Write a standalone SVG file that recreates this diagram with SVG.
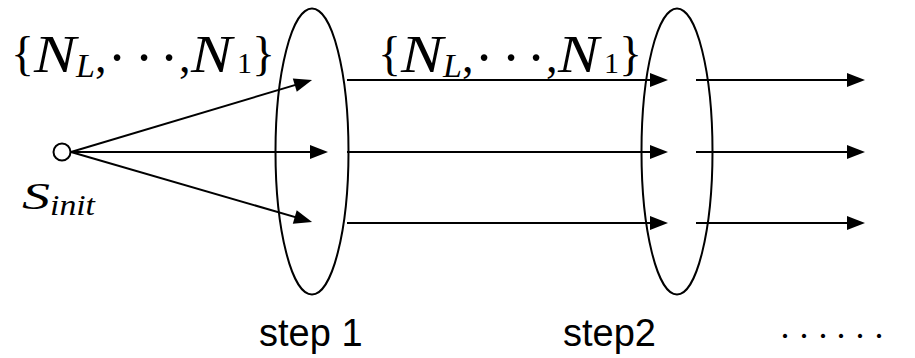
<svg xmlns="http://www.w3.org/2000/svg" width="915" height="358" viewBox="0 0 915 358">
<style>
.ln{stroke:#000;stroke-width:2;fill:none}
.arr{stroke:#000;stroke-width:2;fill:none;marker-end:url(#ah)}
.math{font-family:"Liberation Serif","DejaVu Serif",serif;fill:#000}
.it{font-style:italic}
.br{font-size:48px}
.N{font-size:52px;font-style:italic}
.sub{font-size:34px}
.one{font-size:30px}
.dot{font-size:56px}
.cm{font-size:46px}
.lbl{font-family:"Liberation Sans",Arial,sans-serif;font-size:38px;fill:#000}
</style>
<defs>
<marker id="ah" markerUnits="userSpaceOnUse" markerWidth="18" markerHeight="14" refX="14" refY="7" orient="auto" overflow="visible">
<path d="M0,0 L18,7 L0,14 z" fill="#000"/>
</marker>
</defs>
<rect width="915" height="358" fill="#fff"/>

<g id="init">
<circle cx="62" cy="152" r="8.5" class="ln"/>
<text class="math it" x="22" y="209" font-size="38"><tspan textLength="28" lengthAdjust="spacingAndGlyphs">S</tspan><tspan font-size="29" x="50" y="215" textLength="45" lengthAdjust="spacingAndGlyphs">init</tspan></text>
</g>

<g id="step1">
<ellipse cx="312" cy="151.5" rx="36.5" ry="143" class="ln"/>
<text class="lbl" x="259" y="346">step 1</text>
</g>

<g id="step2">
<ellipse cx="677" cy="151.5" rx="35.5" ry="143" class="ln"/>
<text class="lbl" x="563" y="346">step2</text>
</g>

<g id="label1" class="math">
<text y="72"><tspan class="br" x="11" y="70">{</tspan><tspan class="N" x="34" y="72" textLength="42" lengthAdjust="spacingAndGlyphs">N</tspan><tspan class="sub it" x="76" y="77">L</tspan><tspan class="cm" x="95" y="72">,</tspan><tspan class="dot" x="117" y="76.5" text-anchor="middle">·</tspan><tspan class="dot" x="144" y="76.5" text-anchor="middle">·</tspan><tspan class="dot" x="169" y="76.5" text-anchor="middle">·</tspan><tspan class="cm" x="179" y="72">,</tspan><tspan class="N" x="191" y="72" textLength="41" lengthAdjust="spacingAndGlyphs">N</tspan><tspan class="one" x="237" y="73">1</tspan><tspan class="br" x="252" y="70">}</tspan></text>
</g>

<g id="label2" class="math">
<text y="72"><tspan class="br" x="378" y="70">{</tspan><tspan class="N" x="401" y="72" textLength="42" lengthAdjust="spacingAndGlyphs">N</tspan><tspan class="sub it" x="443" y="77">L</tspan><tspan class="cm" x="462" y="72">,</tspan><tspan class="dot" x="484" y="76.5" text-anchor="middle">·</tspan><tspan class="dot" x="511" y="76.5" text-anchor="middle">·</tspan><tspan class="dot" x="536" y="76.5" text-anchor="middle">·</tspan><tspan class="cm" x="546" y="72">,</tspan><tspan class="N" x="558" y="72" textLength="41" lengthAdjust="spacingAndGlyphs">N</tspan><tspan class="one" x="604" y="73">1</tspan><tspan class="br" x="619" y="70">}</tspan></text>
</g>

<g id="more" class="math" font-size="36">
<text y="347.5" text-anchor="middle"><tspan x="785">·</tspan><tspan x="804">·</tspan><tspan x="823">·</tspan><tspan x="841">·</tspan><tspan x="860">·</tspan><tspan x="879">·</tspan></text>
</g>

<g id="connectors">
<line x1="71" y1="152" x2="308.2" y2="81.1" class="arr"/>
<line x1="71" y1="152" x2="324" y2="152" class="arr"/>
<line x1="71" y1="152" x2="308.2" y2="220.9" class="arr"/>
<line x1="347" y1="80" x2="664" y2="80" class="arr"/>
<line x1="347" y1="152" x2="664" y2="152" class="arr"/>
<line x1="347" y1="223" x2="664" y2="223" class="arr"/>
<line x1="696" y1="80" x2="861" y2="80" class="arr"/>
<line x1="696" y1="152" x2="861" y2="152" class="arr"/>
<line x1="696" y1="223" x2="861" y2="223" class="arr"/>
</g>
</svg>
